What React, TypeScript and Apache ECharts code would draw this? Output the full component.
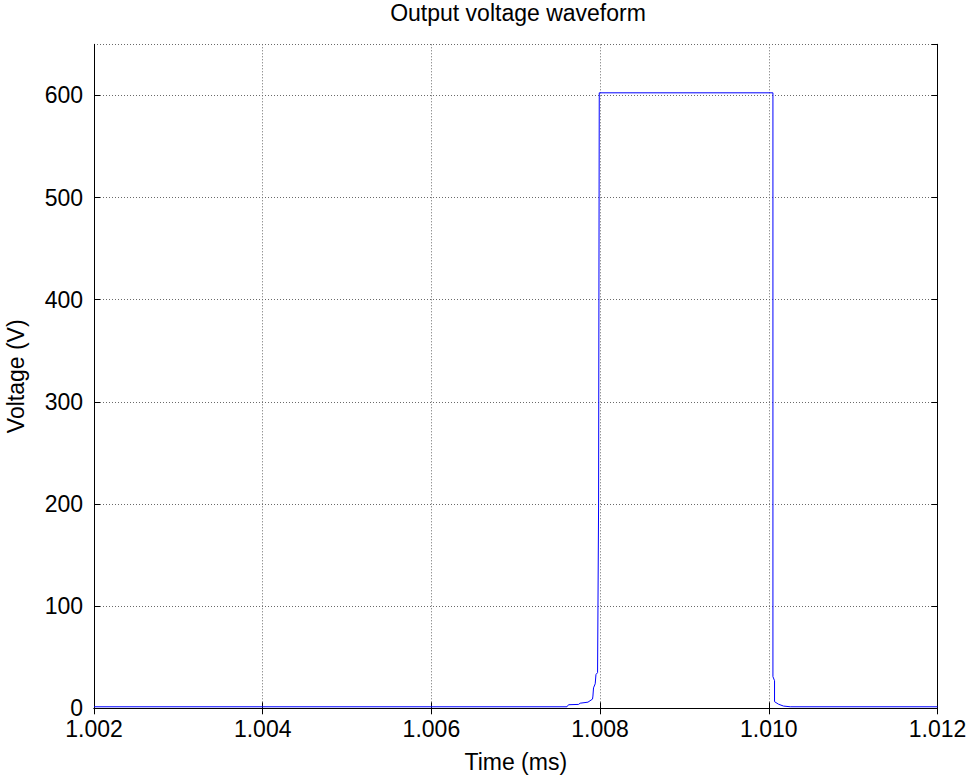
import React, { useEffect, useRef } from "react";
import * as echarts from "echarts";

const timeMs: number[] = [
  1.002, 1.007607, 1.007626, 1.007744, 1.007764, 1.007856, 1.00791, 1.007915,
  1.007922, 1.007942, 1.007951, 1.00797, 1.007982, 1.00799, 1.010049, 1.010049,
  1.010068, 1.010068, 1.010115, 1.010174, 1.010254, 1.012,
];
const voltage: number[] = [
  1.5, 1.5, 3.5, 3.8, 5, 6, 9, 12, 20, 24, 33, 35, 200, 602.5, 602.5, 31, 27,
  6.5, 4, 2.2, 1.5, 1.5,
];
const xTicks = { min: 1.002, max: 1.012, interval: 0.002 };
const yTicks = { min: 0, max: 650, interval: 100 };

const FONT = "'Liberation Sans', Arial, sans-serif";
const FS = 23;

export default function App() {
  const ref = useRef<HTMLDivElement>(null);
  useEffect(() => {
    if (!ref.current) return;
    const chart = echarts.init(ref.current, undefined, { renderer: "svg" });
    const data = timeMs.map((t, i) => [t, voltage[i]]);
    const gridLine = { show: true, lineStyle: { color: "#6a6a6a", type: [1, 2] as any, width: 1 } };
    const tick = { show: true, inside: true, length: 6, lineStyle: { color: "#000", width: 1 } };
    const axisLine = { show: true, lineStyle: { color: "#000", width: 1 } };
    chart.setOption({
      animation: false,
      backgroundColor: "#fff",
      title: {
        text: "Output voltage waveform",
        left: 518,
        textAlign: "center",
        top: 1,
        padding: 0,
        textStyle: { fontFamily: FONT, fontSize: FS, fontWeight: "normal", color: "#000" },
      },
      grid: {
        left: 94,
        right: 32.5,
        top: 44.3,
        bottom: 69.7,
        show: false,
        containLabel: false,
        outerBoundsMode: "none",
      },
      xAxis: [
        {
          type: "value",
          min: xTicks.min,
          max: xTicks.max,
          interval: xTicks.interval,
          name: "Time (ms)",
          nameLocation: "middle",
          nameGap: 42,
          nameTextStyle: { fontFamily: FONT, fontSize: FS, color: "#000" },
          axisLine,
          axisTick: tick,
          splitLine: gridLine,
          axisLabel: {
            fontFamily: FONT,
            fontSize: FS,
            color: "#000",
            margin: 9,
            formatter: (v: number) => v.toFixed(3),
          },
        },
        {
          type: "value",
          position: "top",
          min: xTicks.min,
          max: xTicks.max,
          interval: xTicks.interval,
          axisLine,
          axisTick: tick,
          splitLine: { show: false },
          axisLabel: { show: false },
        },
      ],
      yAxis: [
        {
          type: "value",
          min: yTicks.min,
          max: yTicks.max,
          interval: yTicks.interval,
          name: "Voltage (V)",
          nameLocation: "middle",
          nameGap: 67,
          nameTextStyle: { fontFamily: FONT, fontSize: FS, color: "#000" },
          axisLine,
          axisTick: tick,
          splitLine: gridLine,
          axisLabel: {
            fontFamily: FONT,
            fontSize: FS,
            color: "#000",
            margin: 11,
            showMaxLabel: false,
          },
        },
        {
          type: "value",
          position: "right",
          min: yTicks.min,
          max: yTicks.max,
          interval: yTicks.interval,
          axisLine,
          axisTick: tick,
          splitLine: { show: false },
          axisLabel: { show: false },
        },
      ],
      series: [
        {
          type: "line",
          data,
          showSymbol: false,
          symbol: "none",
          lineStyle: { color: "#0000ff", width: 1 },
          itemStyle: { color: "#0000ff" },
          z: 5,
        },
      ],
    });
    return () => chart.dispose();
  }, []);
  return (
    <div
      ref={ref}
      style={{ position: "fixed", left: 0, top: 0, width: 970, height: 778, background: "#fff" }}
    />
  );
}
